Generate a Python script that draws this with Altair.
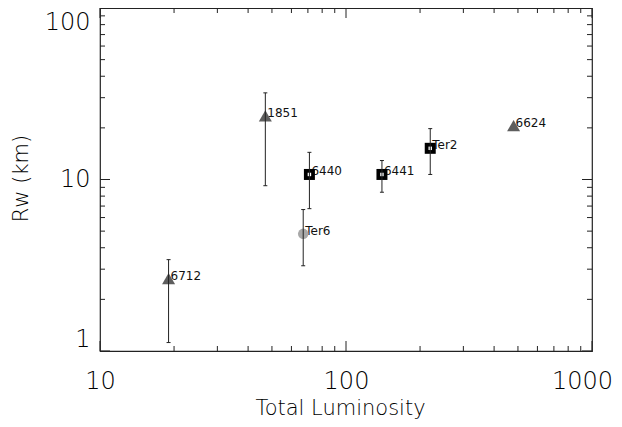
import altair as alt
import pandas as pd

# ---- data ----
names = ["6712", "1851", "6440", "Ter6", "6441", "Ter2", "6624"]
lum = [19, 47, 71, 67, 140, 220, 480]
rw = [2.64, 23.5, 10.7, 4.82, 10.7, 15.2, 20.6]
rw_hi = [3.41, 32.0, 14.4, 6.68, 12.9, 19.8, None]
rw_lo = [1.12, 9.2, 6.76, 3.14, 8.43, 10.7, None]
kind = ["triangle", "triangle", "square", "circle", "square", "square", "triangle"]

x_major = [10, 100, 1000]
x_minor = [20, 30, 40, 50, 60, 70, 80, 90, 200, 300, 400, 500, 600, 700, 800, 900]
y_major = [1, 10, 100]
y_minor = [2, 3, 4, 5, 6, 7, 8, 9, 20, 30, 40, 50, 60, 70, 80, 90]

W, H = 492, 343
FONT = "DejaVu Sans"
INK = "#222222"
TXT = "#000000"

df = pd.DataFrame({"name": names, "lum": lum, "rw": rw, "hi": rw_hi, "lo": rw_lo, "kind": kind})
err = df.dropna(subset=["hi", "lo"])

xs = alt.Scale(type="log", domain=[10, 1000], nice=False)
ys = alt.Scale(type="log", domain=[1, 100], nice=False)

x_axis = alt.Axis(
    title="Total Luminosity", values=x_major, format="d", ticks=False, domain=False,
    grid=False, labelFont=FONT, labelFontSize=24, labelFontWeight=200, labelColor=TXT,
    labelPadding=18, labelFlush=False, labelOverlap=False,
    labelOffset={"condition": {"test": "datum.value >= 1000", "value": -10}, "value": 0},
    titleFont=FONT, titleFontSize=21, titleFontWeight=200, titleColor=TXT,
    titleX=240, titleY=63, titleBaseline="alphabetic", titleAlign="center")
y_axis = alt.Axis(
    title="Rw (km)", values=y_major, format="d", ticks=False, domain=False,
    grid=False, labelFont=FONT, labelFontSize=24, labelFontWeight=200, labelColor=TXT,
    labelPadding=10, labelFlush=True, labelOverlap=False,
    labelOffset={"condition": {"test": "datum.value >= 100", "value": 2}, "value": 0},
    titleFont=FONT, titleFontSize=21, titleFontWeight=200, titleColor=TXT,
    titleX=-79, titleY=170, titleBaseline="middle", titleAlign="center", titleAngle=-90)


def ex(f):
    return alt.X(f, scale=xs, axis=x_axis)


def ey(f):
    return alt.Y(f, scale=ys, axis=y_axis)


base = alt.Chart(df)

labels = base.mark_text(align="left", baseline="middle", dx=2, dy=-3, font=FONT,
                        fontSize=12, color="#111111").encode(x=ex("lum:Q"), y=ey("rw:Q"), text="name:N")

tri = base.transform_filter(alt.datum.kind == "triangle").mark_point(
    shape="triangle-up", filled=True, size=169, color="#5e5e5e", opacity=1
).encode(x=ex("lum:Q"), y=ey("rw:Q"))

sq = base.transform_filter(alt.datum.kind == "square").mark_square(
    size=121, color="#000000", opacity=1
).encode(x=ex("lum:Q"), y=ey("rw:Q"))

sq_in = base.transform_filter(alt.datum.kind == "square").mark_square(
    size=12, color="#ffffff", opacity=1
).encode(x=ex("lum:Q"), y=ey("rw:Q"))

circ = base.transform_filter(alt.datum.kind == "circle").mark_circle(
    size=110, color="#a8a8a8", opacity=1
).encode(x=ex("lum:Q"), y=ey("rw:Q"))

ebar = alt.Chart(err).mark_rule(color="#222222", strokeWidth=1).encode(
    x=ex("lum:Q"), y=ey("lo:Q"), y2="hi:Q")

cap_hi = alt.Chart(err).mark_point(shape="M-1,0L1,0", size=16, filled=False,
                                   color="#222222", strokeWidth=1, opacity=1).encode(
    x=ex("lum:Q"), y=ey("hi:Q"))
cap_lo = alt.Chart(err).mark_point(shape="M-1,0L1,0", size=16, filled=False,
                                   color="#222222", strokeWidth=1, opacity=1).encode(
    x=ex("lum:Q"), y=ey("lo:Q"))


# ---- inward ticks on all four sides ----
def xticks(vals, ln):
    d = pd.DataFrame({"v": vals})
    bot = alt.Chart(d).mark_rule(color=INK, strokeWidth=1).encode(
        x=ex("v:Q"), y=alt.value(H), y2=alt.value(H - ln))
    top = alt.Chart(d).mark_rule(color=INK, strokeWidth=1).encode(
        x=ex("v:Q"), y=alt.value(0), y2=alt.value(ln))
    return [bot, top]


def yticks(vals, ln):
    d = pd.DataFrame({"v": vals})
    left = alt.Chart(d).mark_rule(color=INK, strokeWidth=1).encode(
        y=ey("v:Q"), x=alt.value(0), x2=alt.value(ln))
    right = alt.Chart(d).mark_rule(color=INK, strokeWidth=1).encode(
        y=ey("v:Q"), x=alt.value(W), x2=alt.value(W - ln))
    return [left, right]


tick_layers = xticks(x_major, 10) + xticks(x_minor, 5) + yticks(y_major, 10) + yticks(y_minor, 5)

chart = alt.layer(
    labels, tri, circ, sq, sq_in, ebar, cap_hi, cap_lo, *tick_layers
).properties(
    width=W, height=H,
    background="white",
    autosize=alt.AutoSizeParams(type="none"),
    padding={"left": 92, "top": 0, "right": 22, "bottom": 68},
).configure_view(
    stroke=INK, strokeWidth=1.2
)

chart.save("out.html", embed_options={"renderer": "svg", "actions": False})
